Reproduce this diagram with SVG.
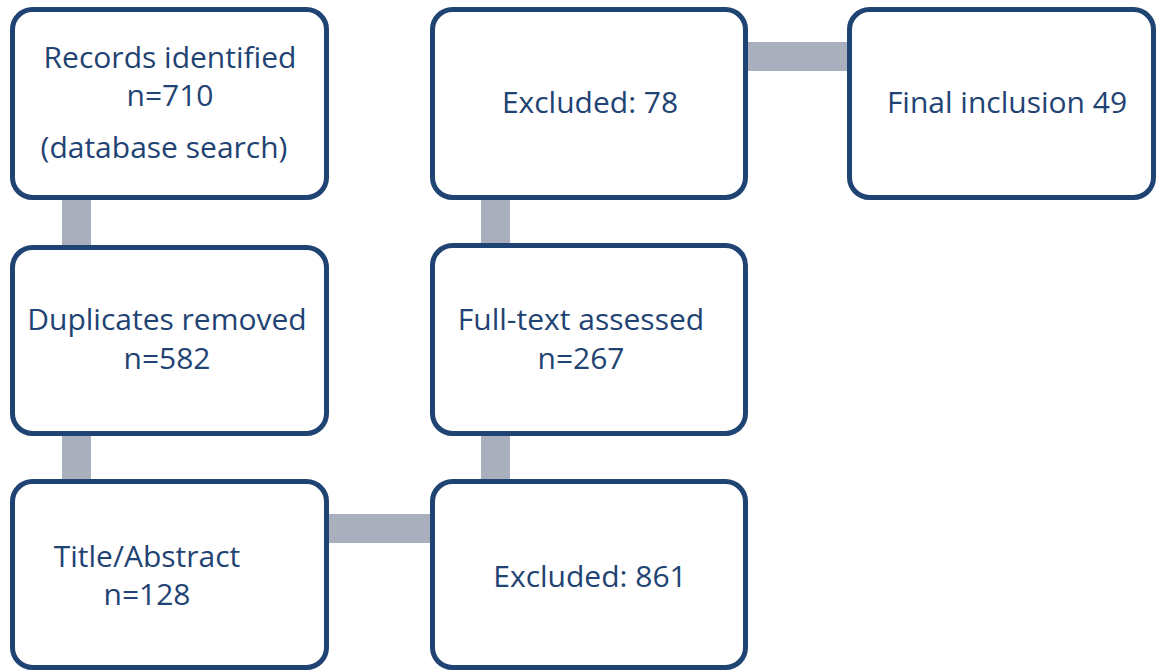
<svg xmlns="http://www.w3.org/2000/svg" width="1156" height="670" viewBox="0 0 1156 670">
<style>
.box{fill:#ffffff;stroke:#1f4373;stroke-width:5}
.conn{fill:#a9afbc}
text{font-family:"Open Sans","Liberation Sans",sans-serif;font-size:30px;fill:#1f4373;text-anchor:middle}
</style>
<rect width="1156" height="670" fill="#ffffff"/>
<g id="connectors">
<rect class="conn" x="62" y="198" width="29" height="50"/>
<rect class="conn" x="62" y="434" width="29" height="48"/>
<rect class="conn" x="327" y="514" width="105" height="29"/>
<rect class="conn" x="481" y="434" width="29" height="48"/>
<rect class="conn" x="481" y="198" width="29" height="48"/>
<rect class="conn" x="746" y="42" width="103" height="29"/>
</g>
<g id="records">
<rect class="box" x="12.5" y="9.5" width="314" height="188" rx="20"/>
<text x="170" y="68">Records identified</text>
<text x="170" y="106">n=710</text>
<text x="164" y="158">(database search)</text>
</g>
<g id="duplicates">
<rect class="box" x="12.5" y="247.5" width="314" height="186" rx="20"/>
<text x="167" y="330">Duplicates removed</text>
<text x="167" y="369">n=582</text>
</g>
<g id="title-abstract">
<rect class="box" x="12.5" y="481.5" width="314" height="186" rx="20"/>
<text x="147" y="567">Title/Abstract</text>
<text x="147" y="605">n=128</text>
</g>
<g id="excluded-861">
<rect class="box" x="432.5" y="481.5" width="313" height="186" rx="20"/>
<text x="590" y="587">Excluded: 861</text>
</g>
<g id="full-text">
<rect class="box" x="432.5" y="245.5" width="313" height="188" rx="20"/>
<text x="581" y="330">Full-text assessed</text>
<text x="581" y="369">n=267</text>
</g>
<g id="excluded-78">
<rect class="box" x="432.5" y="9.5" width="313" height="188" rx="20"/>
<text x="590" y="113">Excluded: 78</text>
</g>
<g id="final">
<rect class="box" x="849.5" y="9.5" width="304" height="188" rx="20"/>
<text x="1007" y="113">Final inclusion 49</text>
</g>
</svg>
